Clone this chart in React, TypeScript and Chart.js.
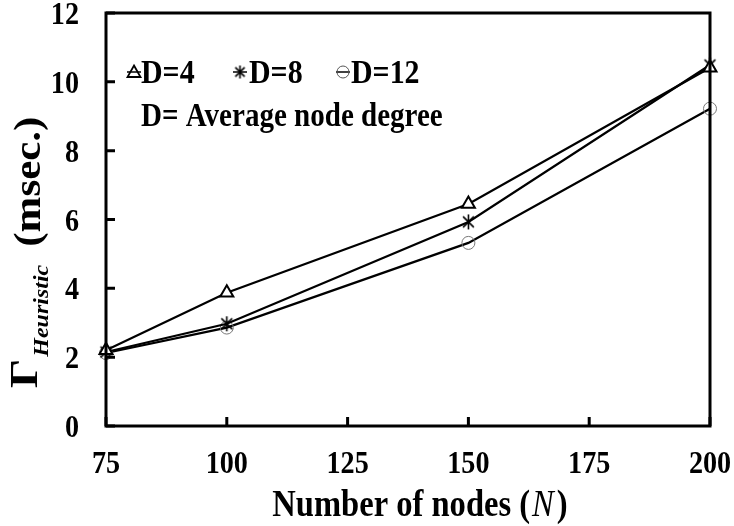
import React, { useEffect, useRef } from "react";
import { Chart, registerables } from "chart.js";

Chart.register(...registerables);

// ---- data ----
const nodeCounts = [75, 100, 150, 200];
const seriesD4 = [2.2, 3.87, 6.45, 10.41];
const seriesD8 = [2.15, 2.97, 5.93, 10.49];
const seriesD12 = [2.12, 2.86, 5.32, 9.22];
const seriesLabels = ["D=4", "D=8", "D=12"];
const xTickValues = [75, 100, 125, 150, 175, 200];
const yTickValues = [0, 2, 4, 6, 8, 10, 12];
const xTitleMain = "Number of nodes (";
const xTitleVar = "N";
const xTitleEnd = ")";
const yTitleSymbol = "Γ";
const yTitleSub = "Heuristic";
const yTitleUnit = "(msec.)";
const legendNote = "D= Average node degree";

const SERIF = '"Liberation Serif", "Times New Roman", serif';
const SX = 0.88; // horizontal squeeze of the reference's lettering

function makeAsterisk(size: number, color: string, lw: number): HTMLCanvasElement {
  const c = document.createElement("canvas");
  c.width = size;
  c.height = size;
  const g = c.getContext("2d")!;
  g.strokeStyle = color;
  g.lineWidth = lw;
  const m = size / 2;
  const r = size / 2 - 1;
  const a = r * 0.72;
  g.beginPath();
  g.moveTo(m, m - r);
  g.lineTo(m, m + r);
  g.moveTo(m - a, m - a);
  g.lineTo(m + a, m + a);
  g.moveTo(m + a, m - a);
  g.lineTo(m - a, m + a);
  g.stroke();
  return c;
}

function toPoints(ys: number[]) {
  return nodeCounts.map((x, i) => ({ x, y: ys[i] }));
}

function sText(ctx: CanvasRenderingContext2D, text: string, x: number, y: number) {
  ctx.save();
  ctx.scale(SX, 1);
  ctx.fillText(text, x / SX, y);
  ctx.restore();
}

function sWidth(ctx: CanvasRenderingContext2D, text: string) {
  return ctx.measureText(text).width * SX;
}

export default function App() {
  const ref = useRef<HTMLCanvasElement | null>(null);

  useEffect(() => {
    const canvas = ref.current;
    if (!canvas) return;
    const star = makeAsterisk(17, "#000", 1.6);
    const legendStar = makeAsterisk(15, "#000", 1.6);

    const drawMarker = (ctx: CanvasRenderingContext2D, kind: number, x: number, y: number) => {
      ctx.save();
      ctx.lineWidth = 1.5;
      ctx.strokeStyle = "#000";
      ctx.beginPath();
      ctx.moveTo(x - 7, y);
      ctx.lineTo(x + 7, y);
      ctx.stroke();
      if (kind === 0) {
        ctx.lineWidth = 1.8;
        ctx.beginPath();
        ctx.moveTo(x, y - 6.5);
        ctx.lineTo(x + 6.5, y + 5);
        ctx.lineTo(x - 6.5, y + 5);
        ctx.closePath();
        ctx.stroke();
      } else if (kind === 1) {
        ctx.drawImage(legendStar, x - 7.5, y - 7.5);
      } else {
        ctx.strokeStyle = "#555";
        ctx.lineWidth = 1;
        ctx.beginPath();
        ctx.arc(x, y, 6, 0, Math.PI * 2);
        ctx.stroke();
      }
      ctx.restore();
    };

    const decor = {
      id: "decor",
      afterDraw(chart: any) {
        const ctx: CanvasRenderingContext2D = chart.ctx;
        const ca = chart.chartArea;
        const xs = chart.scales.x;
        const ys = chart.scales.y;
        ctx.save();
        // frame
        ctx.strokeStyle = "#000";
        ctx.lineWidth = 3;
        ctx.strokeRect(ca.left, ca.top, ca.right - ca.left, ca.bottom - ca.top);
        // inward tick marks
        ctx.beginPath();
        yTickValues.forEach((v) => {
          const y = ys.getPixelForValue(v);
          ctx.moveTo(ca.left, y);
          ctx.lineTo(ca.left + 9, y);
        });
        xTickValues.forEach((v) => {
          const x = xs.getPixelForValue(v);
          ctx.moveTo(x, ca.bottom);
          ctx.lineTo(x, ca.bottom - 9);
        });
        ctx.stroke();

        // tick labels
        ctx.fillStyle = "#000";
        ctx.font = `bold 32px ${SERIF}`;
        ctx.textBaseline = "alphabetic";
        ctx.textAlign = "right";
        yTickValues.forEach((v) => {
          const y = ys.getPixelForValue(v);
          sText(ctx, String(v), 79, y + 11);
        });
        ctx.textAlign = "center";
        xTickValues.forEach((v) => {
          const x = xs.getPixelForValue(v);
          sText(ctx, String(v), x, 473);
        });

        // x title
        ctx.textAlign = "left";
        const fMain = `bold 37px ${SERIF}`;
        const fVar = `italic 37px ${SERIF}`;
        ctx.font = fMain;
        const w1 = sWidth(ctx, xTitleMain);
        const w3 = sWidth(ctx, xTitleEnd);
        ctx.font = fVar;
        const w2 = sWidth(ctx, xTitleVar) + 5;
        const tx = 420 - (w1 + w2 + w3) / 2;
        ctx.font = fMain;
        sText(ctx, xTitleMain, tx, 516);
        ctx.font = fVar;
        sText(ctx, xTitleVar, tx + w1 + 2, 516);
        ctx.font = fMain;
        sText(ctx, xTitleEnd, tx + w1 + w2, 516);

        // y title (rotated)
        ctx.save();
        ctx.scale(SX, 1);
        ctx.translate(0, 388);
        ctx.rotate(-Math.PI / 2);
        // rotated frame: +x = up on screen, +y = right on screen (scaled)
        ctx.font = `bold 46px ${SERIF}`;
        ctx.fillText(yTitleSymbol, 0, 37 / SX);
        const gw = ctx.measureText(yTitleSymbol).width;
        ctx.font = `italic bold 24px ${SERIF}`;
        ctx.fillText(yTitleSub, gw + 2, 48 / SX);
        const hw = ctx.measureText(yTitleSub).width;
        ctx.font = `bold 43px ${SERIF}`;
        ctx.fillText(yTitleUnit, gw + hw + 20, 40 / SX);
        ctx.restore();

        // legend
        const items = [
          { x: 134, tx: 141 },
          { x: 240, tx: 249 },
          { x: 343, tx: 351 },
        ];
        ctx.font = `bold 34px ${SERIF}`;
        items.forEach((it, i) => {
          drawMarker(ctx, i, it.x, 72);
          ctx.fillStyle = "#000";
          sText(ctx, seriesLabels[i], it.tx, 83);
        });
        ctx.font = `bold 33px ${SERIF}`;
        sText(ctx, legendNote, 141, 126);
        ctx.restore();
      },
    };

    const chart = new Chart(canvas, {
      type: "line",
      data: {
        datasets: [
          {
            label: seriesLabels[0],
            data: toPoints(seriesD4),
            borderColor: "#000",
            borderWidth: 2.2,
            pointStyle: "triangle",
            pointRadius: 7.5,
            pointBackgroundColor: "#fff",
            pointBorderColor: "#000",
            pointBorderWidth: 2,
            clip: false,
          },
          {
            label: seriesLabels[1],
            data: toPoints(seriesD8),
            borderColor: "#000",
            borderWidth: 2.2,
            pointStyle: star,
            pointRadius: 8,
            clip: false,
          },
          {
            label: seriesLabels[2],
            data: toPoints(seriesD12),
            borderColor: "#000",
            borderWidth: 2.2,
            pointStyle: "circle",
            pointRadius: 6.5,
            pointBackgroundColor: "rgba(0,0,0,0)",
            pointBorderColor: "#777",
            pointBorderWidth: 1,
            clip: false,
          },
        ] as any,
      },
      options: {
        animation: false,
        responsive: false,
        devicePixelRatio: 1,
        layout: { padding: { left: 0, right: 24, top: 13, bottom: 0 } },
        plugins: { legend: { display: false }, tooltip: { enabled: false } },
        elements: { line: { tension: 0 } },
        scales: {
          x: {
            type: "linear",
            min: 75,
            max: 200,
            ticks: { stepSize: 25, display: false },
            grid: { display: false },
            border: { display: false },
            afterFit: (s: any) => {
              s.height = 100;
            },
          },
          y: {
            type: "linear",
            min: 0,
            max: 12,
            ticks: { stepSize: 2, display: false },
            grid: { display: false },
            border: { display: false },
            afterFit: (s: any) => {
              s.width = 106;
            },
          },
        },
      } as any,
      plugins: [decor],
    });
    return () => chart.destroy();
  }, []);

  return (
    <div style={{ position: "fixed", left: 0, top: 0, width: 734, height: 526, background: "#fff" }}>
      <canvas ref={ref} width={734} height={526} />
    </div>
  );
}
